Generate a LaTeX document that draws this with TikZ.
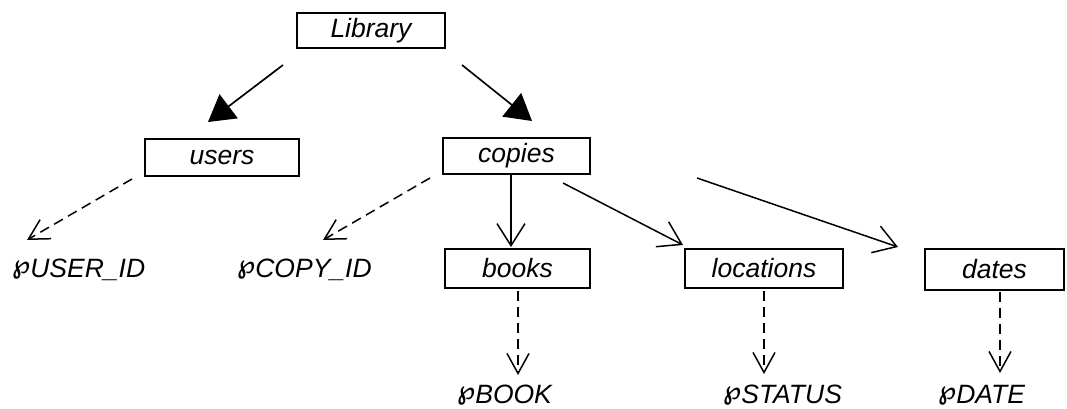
\documentclass[tikz,border=0pt]{standalone}
\usepackage{fontspec}
\setmainfont{Liberation Sans}
\newfontfamily\wpfont{DejaVu Sans}
\usetikzlibrary{arrows.meta}
\newcommand{\pset}{\raisebox{4pt}{\wpfont\bfseries\fontsize{26}{26}\selectfont ℘}}
\begin{document}
\begin{tikzpicture}[x=1pt,y=-1pt,
  box/.style={draw, line width=2pt, inner sep=0pt, font=\fontsize{26.5}{30}\selectfont\itshape},
  lbl/.style={anchor=base west, inner sep=0pt, font=\fontsize{26.5}{30}\selectfont\itshape},
  bigarrow/.style={line width=1.7pt, -{Triangle[length=26pt,width=30pt]}},
  openarrow/.style={line width=1.5pt, -{Straight Barb[length=22pt,width=28pt]}},
  dsharrow/.style={line width=1.5pt, dash pattern=on 10pt off 6pt, -{Straight Barb[length=20pt,width=22pt]}}
]
\useasboundingbox (0,0) rectangle (1067,408);
% boxes
\node[box, minimum width=148pt, minimum height=35pt] (lib) at (371,30.5) {Library};
\node[box, minimum width=154pt, minimum height=37pt] (users) at (222,157.5) {users};
\node[box, minimum width=147pt, minimum height=36pt] (copies) at (516.5,156) {copies};
\node[box, minimum width=145pt, minimum height=39pt] (books) at (517.5,268.5) {books};
\node[box, minimum width=158pt, minimum height=39pt] (loc) at (764,268.5) {locations};
\node[box, minimum width=139pt, minimum height=41pt] (dates) at (994.5,269.5) {dates};
% labels
\node[lbl] (uid) at (12,277) {\pset USER\_ID};
\node[lbl] (cid) at (237,277) {\pset COPY\_ID};
\node[lbl] (bk) at (457,403) {\pset BOOK};
\node[lbl] (st) at (723,403) {\pset STATUS};
\node[lbl] (dt) at (938,403) {\pset DATE};
% connector end points
\coordinate (a1) at (283,65);  \coordinate (b1) at (208,122);
\coordinate (a2) at (462,65);  \coordinate (b2) at (532,121);
\coordinate (a3) at (132,179); \coordinate (b3) at (27,240);
\coordinate (a4) at (430,178); \coordinate (b4) at (323,240);
\coordinate (a5) at (511,175); \coordinate (b5) at (511,247);
\coordinate (a6) at (563,183); \coordinate (b6) at (683,245);
\coordinate (a7) at (697,178); \coordinate (b7) at (898,247);
\coordinate (a8) at (518,291); \coordinate (b8) at (518,375);
\coordinate (a9) at (764,291); \coordinate (b9) at (764,374);
\coordinate (a10) at (1000,292); \coordinate (b10) at (1000,373);
% connectors
\draw[bigarrow] (a1) -- (b1);
\draw[bigarrow] (a2) -- (b2);
\draw[dsharrow] (a3) -- (b3);
\draw[dsharrow] (a4) -- (b4);
\draw[openarrow] (a5) -- (b5);
\draw[openarrow] (a6) -- (b6);
\draw[openarrow] (a7) -- (b7);
\draw[dsharrow] (a8) -- (b8);
\draw[dsharrow] (a9) -- (b9);
\draw[dsharrow] (a10) -- (b10);
\end{tikzpicture}
\end{document}
